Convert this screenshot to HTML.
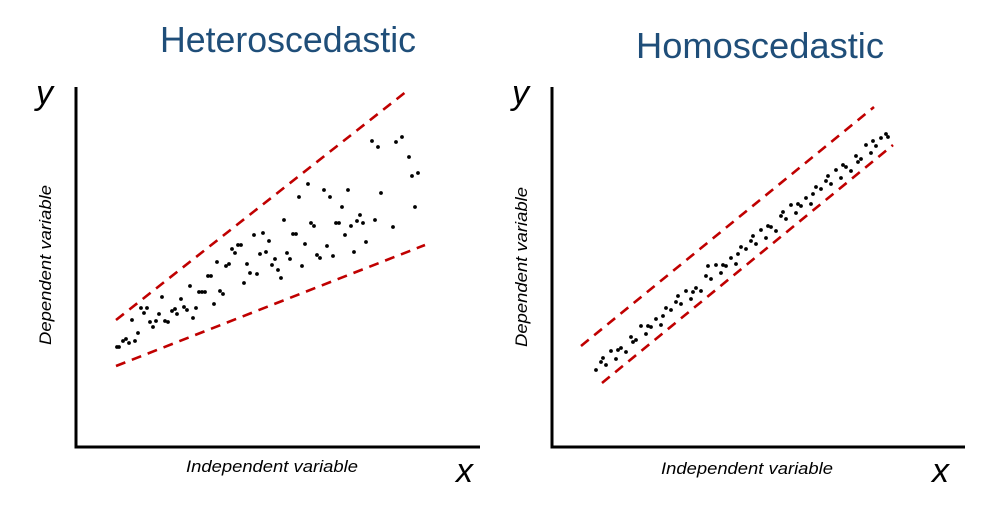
<!DOCTYPE html>
<html><head><meta charset="utf-8"><style>body{margin:0;background:#fff}svg{display:block}</style></head>
<body>
<svg width="999" height="507" viewBox="0 0 999 507" xmlns="http://www.w3.org/2000/svg" font-family="Liberation Sans, sans-serif">
<text x="160" y="52" font-size="36" fill="#1f4e79" textLength="256" lengthAdjust="spacingAndGlyphs">Heteroscedastic</text>
<text x="636" y="58" font-size="36" fill="#1f4e79" textLength="248" lengthAdjust="spacingAndGlyphs">Homoscedastic</text>
<g font-style="italic" fill="#000">
<text x="36" y="104" font-size="34">y</text>
<text x="512" y="104" font-size="34">y</text>
<text x="456" y="482" font-size="34">x</text>
<text x="932" y="482" font-size="34">x</text>
<text x="186" y="472" font-size="17" textLength="172" lengthAdjust="spacingAndGlyphs">Independent variable</text>
<text x="661" y="474" font-size="17" textLength="172" lengthAdjust="spacingAndGlyphs">Independent variable</text>
<text transform="translate(51,345) rotate(-90)" font-size="17" textLength="160" lengthAdjust="spacingAndGlyphs">Dependent variable</text>
<text transform="translate(527,347) rotate(-90)" font-size="17" textLength="160" lengthAdjust="spacingAndGlyphs">Dependent variable</text>
</g>
<g stroke="#000" stroke-width="3" fill="none">
<path d="M76 87 V447 H480"/>
<path d="M552 87 V447 H965"/>
</g>
<g stroke="#c00000" stroke-width="2.6" stroke-dasharray="10,7" fill="none">
<line x1="116" y1="320" x2="407" y2="91"/>
<line x1="116" y1="366" x2="425" y2="245"/>
<line x1="581" y1="346" x2="874" y2="107"/>
<line x1="602" y1="383" x2="893" y2="145"/>
</g>
<g fill="#000">
<circle cx="117" cy="347" r="1.9"/><circle cx="119" cy="347" r="1.9"/><circle cx="123" cy="341" r="1.9"/><circle cx="126" cy="339" r="1.9"/><circle cx="129" cy="343" r="1.9"/><circle cx="132" cy="320" r="1.9"/><circle cx="135" cy="341" r="1.9"/><circle cx="138" cy="333" r="1.9"/><circle cx="141" cy="308" r="1.9"/><circle cx="144" cy="313" r="1.9"/><circle cx="147" cy="308" r="1.9"/><circle cx="150" cy="322" r="1.9"/><circle cx="153" cy="327" r="1.9"/><circle cx="156" cy="321" r="1.9"/><circle cx="159" cy="314" r="1.9"/><circle cx="162" cy="297" r="1.9"/><circle cx="165" cy="321" r="1.9"/><circle cx="168" cy="322" r="1.9"/><circle cx="172" cy="311" r="1.9"/><circle cx="175" cy="309" r="1.9"/><circle cx="177" cy="314" r="1.9"/><circle cx="181" cy="299" r="1.9"/><circle cx="184" cy="307" r="1.9"/><circle cx="187" cy="310" r="1.9"/><circle cx="190" cy="286" r="1.9"/><circle cx="193" cy="318" r="1.9"/><circle cx="196" cy="308" r="1.9"/><circle cx="199" cy="292" r="1.9"/><circle cx="202" cy="292" r="1.9"/><circle cx="205" cy="292" r="1.9"/><circle cx="208" cy="276" r="1.9"/><circle cx="211" cy="276" r="1.9"/><circle cx="214" cy="304" r="1.9"/><circle cx="217" cy="262" r="1.9"/><circle cx="220" cy="291" r="1.9"/><circle cx="223" cy="294" r="1.9"/><circle cx="226" cy="266" r="1.9"/><circle cx="229" cy="264" r="1.9"/><circle cx="232" cy="249" r="1.9"/><circle cx="235" cy="253" r="1.9"/><circle cx="238" cy="245" r="1.9"/><circle cx="241" cy="245" r="1.9"/><circle cx="244" cy="283" r="1.9"/><circle cx="247" cy="264" r="1.9"/><circle cx="250" cy="273" r="1.9"/><circle cx="254" cy="235" r="1.9"/><circle cx="257" cy="274" r="1.9"/><circle cx="260" cy="254" r="1.9"/><circle cx="263" cy="233" r="1.9"/><circle cx="266" cy="252" r="1.9"/><circle cx="269" cy="241" r="1.9"/><circle cx="272" cy="265" r="1.9"/><circle cx="275" cy="259" r="1.9"/><circle cx="278" cy="270" r="1.9"/><circle cx="281" cy="278" r="1.9"/><circle cx="284" cy="220" r="1.9"/><circle cx="287" cy="253" r="1.9"/><circle cx="290" cy="259" r="1.9"/><circle cx="293" cy="234" r="1.9"/><circle cx="296" cy="234" r="1.9"/><circle cx="299" cy="197" r="1.9"/><circle cx="302" cy="266" r="1.9"/><circle cx="305" cy="244" r="1.9"/><circle cx="308" cy="184" r="1.9"/><circle cx="311" cy="223" r="1.9"/><circle cx="314" cy="226" r="1.9"/><circle cx="317" cy="255" r="1.9"/><circle cx="320" cy="258" r="1.9"/><circle cx="324" cy="190" r="1.9"/><circle cx="327" cy="246" r="1.9"/><circle cx="330" cy="197" r="1.9"/><circle cx="333" cy="256" r="1.9"/><circle cx="336" cy="223" r="1.9"/><circle cx="339" cy="223" r="1.9"/><circle cx="342" cy="207" r="1.9"/><circle cx="345" cy="235" r="1.9"/><circle cx="348" cy="190" r="1.9"/><circle cx="351" cy="226" r="1.9"/><circle cx="354" cy="252" r="1.9"/><circle cx="357" cy="221" r="1.9"/><circle cx="360" cy="215" r="1.9"/><circle cx="363" cy="223" r="1.9"/><circle cx="366" cy="242" r="1.9"/><circle cx="372" cy="141" r="1.9"/><circle cx="375" cy="220" r="1.9"/><circle cx="378" cy="147" r="1.9"/><circle cx="381" cy="193" r="1.9"/><circle cx="393" cy="227" r="1.9"/><circle cx="396" cy="142" r="1.9"/><circle cx="402" cy="137" r="1.9"/><circle cx="409" cy="157" r="1.9"/><circle cx="412" cy="176" r="1.9"/><circle cx="415" cy="207" r="1.9"/><circle cx="418" cy="173" r="1.9"/>

<circle cx="596" cy="370" r="1.9"/><circle cx="601" cy="362" r="1.9"/><circle cx="606" cy="365" r="1.9"/><circle cx="611" cy="351" r="1.9"/><circle cx="616" cy="359" r="1.9"/><circle cx="621" cy="348" r="1.9"/><circle cx="626" cy="352" r="1.9"/><circle cx="631" cy="337" r="1.9"/><circle cx="636" cy="340" r="1.9"/><circle cx="641" cy="326" r="1.9"/><circle cx="646" cy="334" r="1.9"/><circle cx="651" cy="327" r="1.9"/><circle cx="656" cy="319" r="1.9"/><circle cx="661" cy="325" r="1.9"/><circle cx="666" cy="308" r="1.9"/><circle cx="671" cy="310" r="1.9"/><circle cx="676" cy="302" r="1.9"/><circle cx="681" cy="304" r="1.9"/><circle cx="686" cy="291" r="1.9"/><circle cx="691" cy="299" r="1.9"/><circle cx="696" cy="288" r="1.9"/><circle cx="701" cy="291" r="1.9"/><circle cx="706" cy="276" r="1.9"/><circle cx="711" cy="279" r="1.9"/><circle cx="716" cy="265" r="1.9"/><circle cx="721" cy="273" r="1.9"/><circle cx="726" cy="266" r="1.9"/><circle cx="731" cy="258" r="1.9"/><circle cx="736" cy="264" r="1.9"/><circle cx="741" cy="247" r="1.9"/><circle cx="746" cy="249" r="1.9"/><circle cx="751" cy="241" r="1.9"/><circle cx="756" cy="244" r="1.9"/><circle cx="761" cy="230" r="1.9"/><circle cx="766" cy="238" r="1.9"/><circle cx="771" cy="227" r="1.9"/><circle cx="776" cy="231" r="1.9"/><circle cx="781" cy="216" r="1.9"/><circle cx="786" cy="219" r="1.9"/><circle cx="791" cy="205" r="1.9"/><circle cx="796" cy="213" r="1.9"/><circle cx="801" cy="206" r="1.9"/><circle cx="806" cy="198" r="1.9"/><circle cx="811" cy="204" r="1.9"/><circle cx="816" cy="187" r="1.9"/><circle cx="821" cy="189" r="1.9"/><circle cx="826" cy="181" r="1.9"/><circle cx="831" cy="184" r="1.9"/><circle cx="836" cy="170" r="1.9"/><circle cx="841" cy="178" r="1.9"/><circle cx="846" cy="167" r="1.9"/><circle cx="851" cy="171" r="1.9"/><circle cx="856" cy="156" r="1.9"/><circle cx="861" cy="159" r="1.9"/><circle cx="866" cy="145" r="1.9"/><circle cx="871" cy="153" r="1.9"/><circle cx="876" cy="146" r="1.9"/><circle cx="881" cy="138" r="1.9"/><circle cx="886" cy="134" r="1.9"/>
<circle cx="603" cy="358" r="1.9"/><circle cx="618" cy="350" r="1.9"/><circle cx="633" cy="342" r="1.9"/><circle cx="648" cy="326" r="1.9"/><circle cx="663" cy="316" r="1.9"/><circle cx="678" cy="296" r="1.9"/><circle cx="693" cy="292" r="1.9"/><circle cx="708" cy="266" r="1.9"/><circle cx="723" cy="265" r="1.9"/><circle cx="738" cy="254" r="1.9"/><circle cx="753" cy="236" r="1.9"/><circle cx="768" cy="226" r="1.9"/><circle cx="783" cy="212" r="1.9"/><circle cx="798" cy="204" r="1.9"/><circle cx="813" cy="194" r="1.9"/><circle cx="828" cy="176" r="1.9"/><circle cx="843" cy="165" r="1.9"/><circle cx="858" cy="162" r="1.9"/><circle cx="873" cy="141" r="1.9"/><circle cx="888" cy="137" r="1.9"/>
</g>
</svg>
</body></html>
